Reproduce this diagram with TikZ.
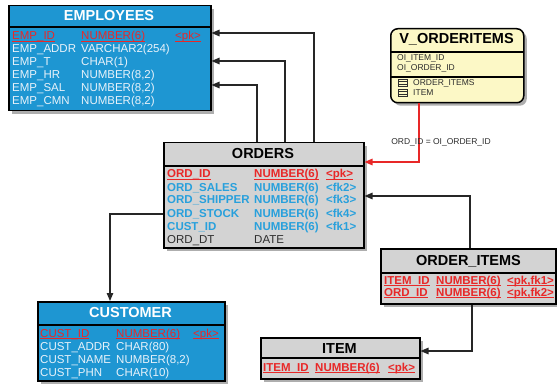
\documentclass[tikz,border=0pt]{standalone}
\usepackage{fontspec}
\setmainfont{Liberation Sans}
\usetikzlibrary{arrows.meta,shadows}
\definecolor{tblue}{RGB}{30,150,210}
\definecolor{tgray}{RGB}{211,211,211}
\definecolor{tred}{RGB}{232,40,40}
\definecolor{tfk}{RGB}{40,160,220}
\definecolor{twhite}{RGB}{232,242,250}
\definecolor{tyellow}{RGB}{252,248,198}
\definecolor{tdark}{RGB}{45,45,45}
\newcommand\tcell[5]{\node[cellt,#4] (#1) at (#2,#3) {#5};}
\newcommand\uln[1]{{\setbox0\hbox{#1}\rlap{\rule[-1.6pt]{\wd0}{0.8pt}}\box0}}
\begin{document}
\begin{tikzpicture}[x=1pt,y=-1pt,
 tbl/.style={draw=black, line width=1.5pt, inner sep=0pt, anchor=north west,
   drop shadow={shadow xshift=3pt, shadow yshift=-3pt, fill=black!45, opacity=0.7}},
 div/.style={draw=black, line width=1.5pt},
 cellt/.style={anchor=base west, inner sep=0pt, font=\fontsize{11.5}{13}\selectfont},
 wt/.style={text=twhite},
 pk/.style={text=tred},
 fk/.style={text=tfk, font=\bfseries\fontsize{11.5}{13}\selectfont},
 pkb/.style={text=tred, font=\bfseries\fontsize{11.5}{13}\selectfont},
 dk/.style={text=tdark},
 hdr/.style={anchor=base, inner sep=0pt, font=\bfseries\fontsize{14.5}{16}\selectfont},
 small/.style={anchor=base west, inner sep=0pt, text=tdark, font=\fontsize{8.5}{10}\selectfont},
 conn/.style={draw=black!85, line width=1.3pt, -{Triangle[length=8pt,width=6.5pt]}},
 connr/.style={draw=tred, line width=1.3pt, -{Triangle[length=8pt,width=6.5pt]}},
 icon/.style={draw=tdark, line width=0.5pt, fill=tyellow}
]
\useasboundingbox (0,0) rectangle (557,385);

% ---------- EMPLOYEES
\node[tbl, fill=tblue, minimum width=202pt, minimum height=105pt] (emp) at (8,5) {};
\draw[div] (8,27) -- (210,27);
\node[hdr, text=white] (empH) at (109,20.5) {EMPLOYEES};
\tcell{e1a}{12}{40}{pk}{\uln{EMP\_ID}}
\tcell{e1b}{81}{40}{pk}{\uln{NUMBER(6)}}
\tcell{e1c}{175}{40}{pk}{\uln{<pk>}}
\tcell{e2a}{12}{53}{wt}{EMP\_ADDR}
\tcell{e2b}{81}{53}{wt}{VARCHAR2(254)}
\tcell{e3a}{12}{66}{wt}{EMP\_T}
\tcell{e3b}{81}{66}{wt}{CHAR(1)}
\tcell{e4a}{12}{79}{wt}{EMP\_HR}
\tcell{e4b}{81}{79}{wt}{NUMBER(8,2)}
\tcell{e5a}{12}{92}{wt}{EMP\_SAL}
\tcell{e5b}{81}{92}{wt}{NUMBER(8,2)}
\tcell{e6a}{12}{105}{wt}{EMP\_CMN}
\tcell{e6b}{81}{105}{wt}{NUMBER(8,2)}

% ---------- ORDERS
\node[tbl, fill=tgray, minimum width=200pt, minimum height=105pt] (ord) at (163,142) {};
\draw[div] (163,166) -- (363,166);
\node[hdr, text=black] (ordH) at (263,158.5) {ORDERS};
\tcell{o1a}{167}{178}{pkb}{\uln{ORD\_ID}}
\tcell{o1b}{254}{178}{pkb}{\uln{NUMBER(6)}}
\tcell{o1c}{326}{178}{pkb}{\uln{<pk>}}
\tcell{o2a}{167}{191}{fk}{ORD\_SALES}
\tcell{o2b}{254}{191}{fk}{NUMBER(6)}
\tcell{o2c}{326}{191}{fk}{<fk2>}
\tcell{o3a}{167}{204}{fk}{ORD\_SHIPPER}
\tcell{o3b}{254}{204}{fk}{NUMBER(6)}
\tcell{o3c}{326}{204}{fk}{<fk3>}
\tcell{o4a}{167}{217}{fk}{ORD\_STOCK}
\tcell{o4b}{254}{217}{fk}{NUMBER(6)}
\tcell{o4c}{326}{217}{fk}{<fk4>}
\tcell{o5a}{167}{230}{fk}{CUST\_ID}
\tcell{o5b}{254}{230}{fk}{NUMBER(6)}
\tcell{o5c}{326}{230}{fk}{<fk1>}
\tcell{o6a}{167}{243}{dk}{ORD\_DT}
\tcell{o6b}{254}{243}{dk}{DATE}

% ---------- V_ORDERITEMS
\node[tbl, fill=tyellow, rounded corners=7pt, minimum width=133pt, minimum height=74pt] (vo) at (390,28) {};
\draw[div] (390,52) -- (523,52);
\draw[div] (390,77) -- (523,77);
\node[hdr, text=black] (voH) at (456.5,44) {V\_ORDERITEMS};
\node[small] (v1) at (397,60.5) {OI\_ITEM\_ID};
\node[small] (v2) at (397,71) {OI\_ORDER\_ID};
\node[small] (v3) at (413,85.5) {ORDER\_ITEMS};
\node[small] (v4) at (413,95.5) {ITEM};
\draw[icon] (398,79) rectangle (407,86.5);
\draw[draw=tdark, line width=0.4pt] (398,81.5) -- (407,81.5) (398,84) -- (407,84);
\draw[icon] (398,89) rectangle (407,96.5);
\draw[draw=tdark, line width=0.4pt] (398,91.5) -- (407,91.5) (398,94) -- (407,94);

% ---------- ORDER_ITEMS
\node[tbl, fill=tgray, minimum width=175pt, minimum height=55pt] (oi) at (380,248) {};
\draw[div] (380,273) -- (555,273);
\node[hdr, text=black] (oiH) at (468.5,265) {ORDER\_ITEMS};
\tcell{i1a}{384}{284}{pkb}{\uln{ITEM\_ID}}
\tcell{i1b}{436}{284}{pkb}{\uln{NUMBER(6)}}
\tcell{i1c}{507}{284}{pkb}{\uln{<pk,fk1>}}
\tcell{i2a}{384}{296}{pkb}{\uln{ORD\_ID}}
\tcell{i2b}{436}{296}{pkb}{\uln{NUMBER(6)}}
\tcell{i2c}{507}{296}{pkb}{\uln{<pk,fk2>}}

% ---------- ITEM
\node[tbl, fill=tgray, minimum width=159pt, minimum height=41pt] (it) at (260,337) {};
\draw[div] (260,358) -- (419,358);
\node[hdr, text=black] (itH) at (339.5,353) {ITEM};
\tcell{t1a}{263}{371}{pkb}{\uln{ITEM\_ID}}
\tcell{t1b}{315}{371}{pkb}{\uln{NUMBER(6)}}
\tcell{t1c}{388}{371}{pkb}{\uln{<pk>}}

% ---------- CUSTOMER
\node[tbl, fill=tblue, minimum width=187pt, minimum height=79pt] (cus) at (37,301) {};
\draw[div] (37,325) -- (224,325);
\node[hdr, text=white] (cusH) at (130.5,317) {CUSTOMER};
\tcell{c1a}{40}{337}{pk}{\uln{CUST\_ID}}
\tcell{c1b}{116}{337}{pk}{\uln{NUMBER(6)}}
\tcell{c1c}{193}{337}{pk}{\uln{<pk>}}
\tcell{c2a}{40}{350}{wt}{CUST\_ADDR}
\tcell{c2b}{116}{350}{wt}{CHAR(80)}
\tcell{c3a}{40}{363}{wt}{CUST\_NAME}
\tcell{c3b}{116}{363}{wt}{NUMBER(8,2)}
\tcell{c4a}{40}{376}{wt}{CUST\_PHN}
\tcell{c4b}{116}{376}{wt}{CHAR(10)}

% ---------- connectors
\coordinate (k1) at (257,85);
\coordinate (k2) at (285,61);
\coordinate (k3) at (314,33);
\coordinate (k4) at (419,162);
\coordinate (k5) at (470,196);
\coordinate (k6) at (110,214);
\coordinate (k7) at (472,351);
\draw[conn] (ord.north -| k1) |- (emp.east |- k1);
\draw[conn] (ord.north -| k2) |- (emp.east |- k2);
\draw[conn] (ord.north -| k3) |- (emp.east |- k3);
\draw[connr] (vo.south -| k4) |- (ord.east |- k4);
\draw[conn] (oi.north -| k5) |- (ord.east |- k5);
\draw[conn] (ord.west |- k6) -| (cus.north -| k6);
\draw[conn] (oi.south -| k7) |- (it.east |- k7);
\node[small, anchor=base] (lbl) at (441,145) {ORD\_ID = OI\_ORDER\_ID};
\end{tikzpicture}
\end{document}
